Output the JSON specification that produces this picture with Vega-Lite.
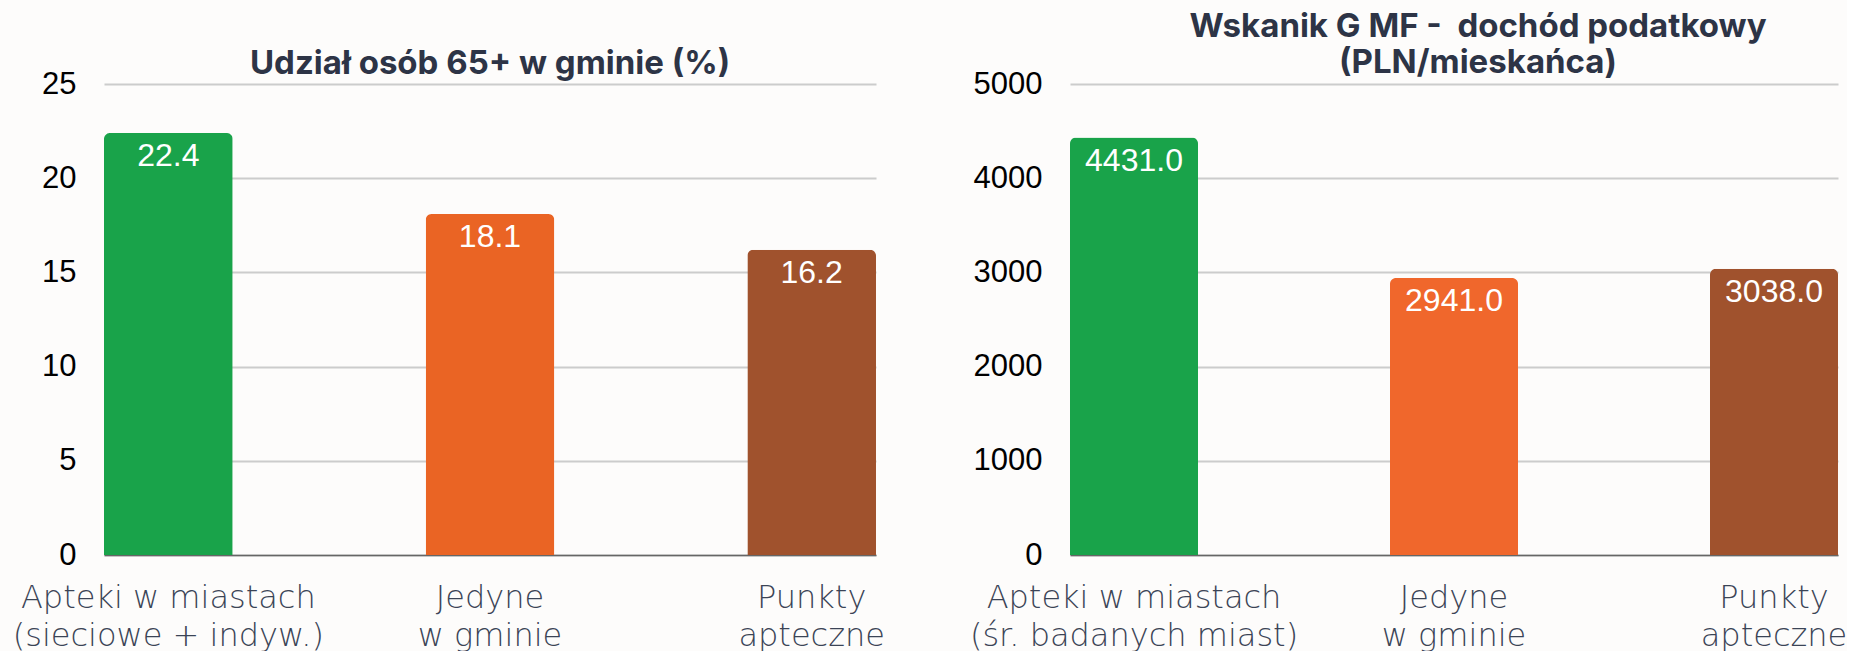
{
  "$schema": "https://vega.github.io/schema/vega-lite/v6.json",
  "background": "#fdfcfb",
  "padding": {"left": 12, "top": 11, "right": 0, "bottom": 0},
  "spacing": 194,
  "bounds": "flush",
  "config": {
    "view": {"stroke": null},
    "axis": {"ticks": false, "labelFont": "Liberation Sans", "labelColor": "#000000"},
    "title": {"font": "Inter", "fontWeight": 700, "fontSize": 33, "color": "#2d3446", "baseline": "alphabetic", "offset": 6, "lineHeight": 36}
  },
  "datasets": {
    "a": [
      {"kat": "Apteki w miastach|(sieciowe + indyw.)", "v": 22.4},
      {"kat": "Jedyne|w gminie", "v": 18.1},
      {"kat": "Punkty|apteczne", "v": 16.2}
    ],
    "b": [
      {"kat": "Apteki w miastach|(śr. badanych miast)", "v": 4431.0},
      {"kat": "Jedyne|w gminie", "v": 2941.0},
      {"kat": "Punkty|apteczne", "v": 3038.0}
    ]
  },
  "hconcat": [
    {
      "data": {"name": "a"},
      "width": 772,
      "height": 471,
      "title": {"text": "Udział osób 65+ w gminie (%)", "dy": 19},
      "encoding": {
        "x": {"field": "kat", "type": "nominal", "sort": null,
          "scale": {"paddingInner": 0.6, "paddingOuter": 0},
          "axis": {"title": null, "labelAngle": 0, "labelLimit": 0, "labelExpr": "split(datum.label, '|')", "labelFont": "DejaVu Sans", "labelFontWeight": 200, "labelFontSize": 32, "labelColor": "#3b4456", "labelBaseline": "alphabetic", "labelPadding": 52, "labelLineHeight": 38, "domainColor": "#666666", "domainWidth": 1.5, "grid": false}},
        "y": {"field": "v", "type": "quantitative",
          "scale": {"domain": [0, 25], "nice": false},
          "axis": {"title": null, "values": [0, 5, 10, 15, 20, 25], "format": "d", "domain": false, "gridColor": "#cccccc", "gridWidth": 2, "labelFontSize": 31, "labelPadding": 28}}
      },
      "layer": [
        {"mark": {"type": "bar", "cornerRadiusTopLeft": 6, "cornerRadiusTopRight": 6},
          "encoding": {"color": {"field": "kat", "type": "nominal", "sort": null, "legend": null,
            "scale": {"range": ["#19a34a", "#ea6424", "#a0522d"]}}}},
        {"mark": {"type": "text", "color": "#ffffff", "font": "Liberation Sans", "fontSize": 32, "baseline": "alphabetic", "dy": 33},
          "encoding": {"text": {"field": "v", "type": "quantitative", "format": ".1f"}}}
      ]
    },
    {
      "data": {"name": "b"},
      "width": 768,
      "height": 471,
      "title": {"text": ["Wskanik G MF -\u00a0 dochód podatkowy", "(PLN/mieskańca)"], "dx": 24, "dy": 18},
      "encoding": {
        "x": {"field": "kat", "type": "nominal", "sort": null,
          "scale": {"paddingInner": 0.6, "paddingOuter": 0},
          "axis": {"title": null, "labelAngle": 0, "labelLimit": 0, "labelExpr": "split(datum.label, '|')", "labelFont": "DejaVu Sans", "labelFontWeight": 200, "labelFontSize": 32, "labelColor": "#3b4456", "labelBaseline": "alphabetic", "labelPadding": 52, "labelLineHeight": 38, "domainColor": "#666666", "domainWidth": 1.5, "grid": false}},
        "y": {"field": "v", "type": "quantitative",
          "scale": {"domain": [0, 5000], "nice": false},
          "axis": {"title": null, "values": [0, 1000, 2000, 3000, 4000, 5000], "format": "d", "domain": false, "gridColor": "#cccccc", "gridWidth": 2, "labelFontSize": 31, "labelPadding": 28}}
      },
      "layer": [
        {"mark": {"type": "bar", "cornerRadiusTopLeft": 6, "cornerRadiusTopRight": 6},
          "encoding": {"color": {"field": "kat", "type": "nominal", "sort": null, "legend": null,
            "scale": {"range": ["#19a34a", "#f0672c", "#a0522d"]}}}},
        {"mark": {"type": "text", "color": "#ffffff", "font": "Liberation Sans", "fontSize": 32, "baseline": "alphabetic", "dy": 33},
          "encoding": {"text": {"field": "v", "type": "quantitative", "format": ".1f"}}}
      ]
    }
  ],
  "resolve": {"scale": {"color": "independent", "y": "independent", "x": "independent"}}
}
